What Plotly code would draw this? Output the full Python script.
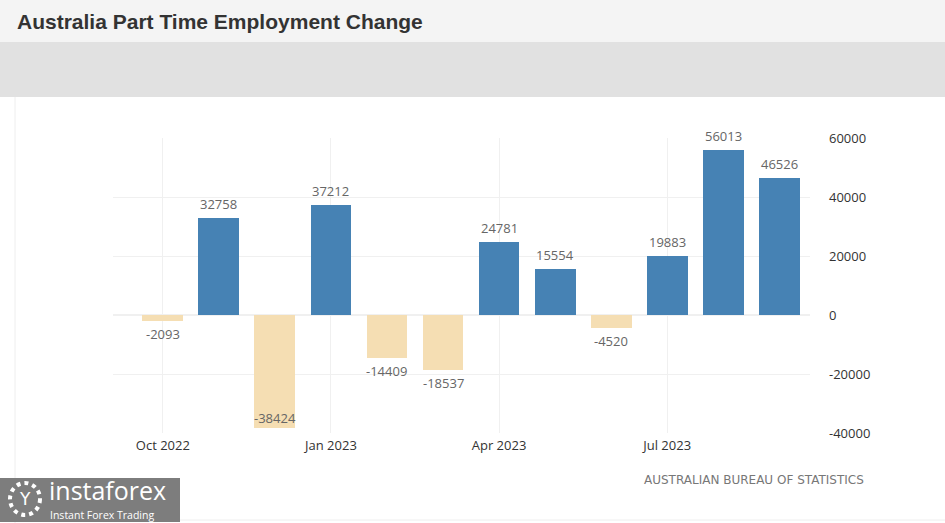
import plotly.graph_objects as go

months = ["Oct 2022", "Nov 2022", "Dec 2022", "Jan 2023", "Feb 2023", "Mar 2023",
          "Apr 2023", "May 2023", "Jun 2023", "Jul 2023", "Aug 2023", "Sep 2023"]
values = [-2093, 32758, -38424, 37212, -14409, -18537, 24781, 15554, -4520, 19883, 56013, 46526]
tick_labels = ["Oct 2022", "Jan 2023", "Apr 2023", "Jul 2023"]
y_ticks = [-40000, -20000, 0, 20000, 40000, 60000]
y_tick_labels = [str(v) for v in y_ticks]

W, H = 945, 523
L, R, T, B = 113, 810, 138, 433


def px(x):
    return (x - L) / (R - L)


def py(y):
    return (B - y) / (B - T)


xs = list(range(len(months)))
colors = ["#4682b4" if v >= 0 else "#f5deb3" for v in values]

fig = go.Figure()
fig.add_trace(go.Bar(
    x=xs, y=values, marker=dict(color=colors, line=dict(width=0)),
    width=0.73, hoverinfo="skip",
))

label_font = dict(family="Open Sans, DejaVu Sans, sans-serif", size=13, color="#666666")
annotations = []
for x, v in zip(xs, values):
    if v >= 0:
        shift = 14
    elif v < -30000:
        shift = 10   # label kept inside the deep bar
    else:
        shift = -13
    annotations.append(dict(x=x, y=v, xref="x", yref="y", text=str(v), showarrow=False,
                            yshift=shift, font=label_font, xanchor="center", yanchor="middle"))

shapes = [
    dict(type="rect", xref="paper", yref="paper", x0=px(0), x1=px(W), y0=py(42), y1=py(0),
         fillcolor="#f4f4f4", line=dict(width=0), layer="below"),
    dict(type="rect", xref="paper", yref="paper", x0=px(0), x1=px(W), y0=py(97), y1=py(42),
         fillcolor="#e1e1e1", line=dict(width=0), layer="below"),
    dict(type="line", xref="paper", yref="paper", x0=px(15), x1=px(15), y0=py(H), y1=py(97),
         line=dict(color="#eeeeee", width=1), layer="below"),
    dict(type="line", xref="paper", yref="paper", x0=px(180), x1=px(W), y0=py(520), y1=py(520),
         line=dict(color="#eeeeee", width=1), layer="below"),
    dict(type="rect", xref="paper", yref="paper", x0=px(0), x1=px(180), y0=py(522), y1=py(478),
         fillcolor="#7d7d7d", line=dict(width=0), layer="above"),
    dict(type="circle", xref="paper", yref="paper", x0=px(10), x1=px(40), y0=py(515), y1=py(483),
         fillcolor="rgba(0,0,0,0)", line=dict(color="white", width=4, dash="dot"), layer="above"),
]

annotations += [
    dict(text="<b>Australia Part Time Employment Change</b>", x=px(15), y=py(21), xref="paper", yref="paper",
         xanchor="left", yanchor="middle", showarrow=False,
         font=dict(family="Liberation Sans, Arial, sans-serif", size=21, color="#333333")),
    dict(text="AUSTRALIAN BUREAU OF STATISTICS", x=px(642), y=py(480), xref="paper", yref="paper",
         xanchor="left", yanchor="middle", showarrow=False,
         font=dict(family="DejaVu Sans, Tahoma, sans-serif", size=12, color="#777777")),
    dict(text="instaforex", x=px(47), y=py(490), xref="paper", yref="paper",
         xanchor="left", yanchor="middle", showarrow=False,
         font=dict(family="Open Sans, sans-serif", size=25, color="white")),
    dict(text="Instant Forex Trading", x=px(48), y=py(515), xref="paper", yref="paper",
         xanchor="left", yanchor="middle", showarrow=False,
         font=dict(family="Open Sans, sans-serif", size=10.5, color="white")),
    dict(text="Y", x=px(25), y=py(499), xref="paper", yref="paper",
         xanchor="center", yanchor="middle", showarrow=False,
         font=dict(family="DejaVu Sans, sans-serif", size=17, color="white")),
]

fig.update_layout(
    width=W, height=H,
    margin=dict(l=L, r=W - R, t=T, b=H - B, pad=0),
    paper_bgcolor="white", plot_bgcolor="white",
    showlegend=False, bargap=0,
    shapes=shapes, annotations=annotations,
    xaxis=dict(range=[-0.89, 11.55], tickvals=[0, 3, 6, 9], ticktext=tick_labels,
               showgrid=True, gridcolor="#f0f0f0", zeroline=False, showline=False, ticks="",
               ticklabelstandoff=3,
               tickfont=dict(family="Open Sans, DejaVu Sans, sans-serif", size=13, color="#333333")),
    yaxis=dict(range=[-40000, 60000], tickvals=y_ticks, ticktext=y_tick_labels, side="right",
               showgrid=True, gridcolor="#f0f0f0", zeroline=True, zerolinecolor="#f0f0f0",
               showline=False, ticks="", ticklabelstandoff=18,
               tickfont=dict(family="Open Sans, DejaVu Sans, sans-serif", size=13, color="#333333")),
)

fig.write_html("out.html", config={"displayModeBar": False},
               post_script="document.body.style.margin='0';document.body.style.overflow='hidden';")
